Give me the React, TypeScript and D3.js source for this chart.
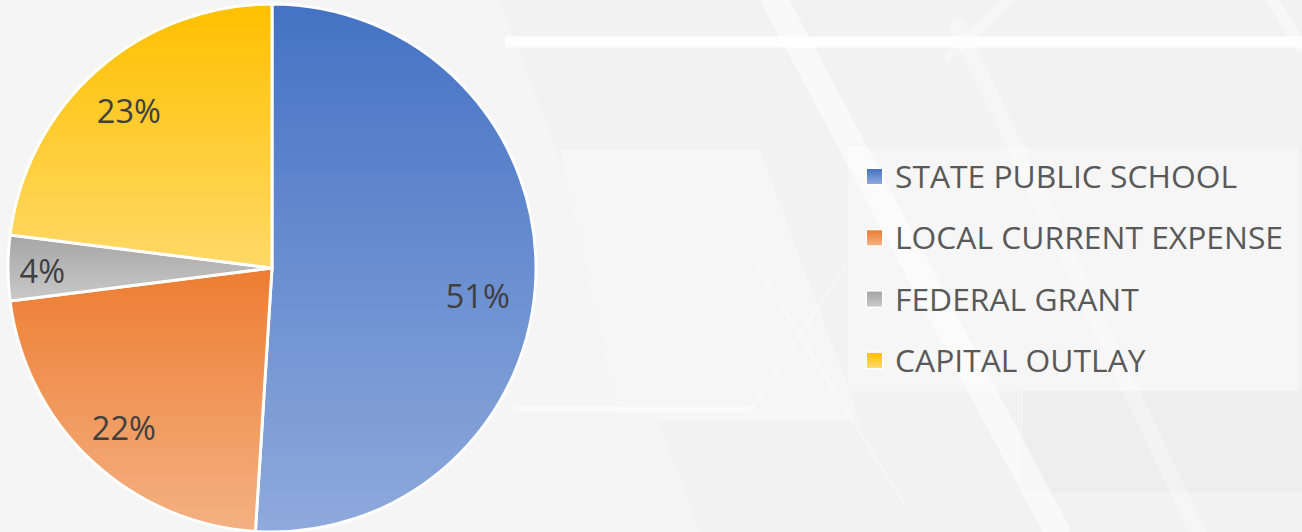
import React from "react";
import * as d3 from "d3";

// funding sources (percent of total)
const categories = [
  "STATE PUBLIC SCHOOL",
  "LOCAL CURRENT EXPENSE",
  "FEDERAL GRANT",
  "CAPITAL OUTLAY",
];
const shares = [51, 22, 4, 23];

// gradient stops per slice: top colour, bottom colour
const topColors = ["#4472C4", "#ED7D31", "#A5A5A5", "#FFC000"];
const bottomColors = ["#8FAADC", "#F4B183", "#C9C9C9", "#FFD966"];

const W = 1302;
const H = 532;
const cx = 272;
const cy = 268;
const r = 264;

// excel "best fit" pushes labels around a bit
const labelRadius = [0.78, 0.82, 0.87, 0.82];
const labelDy = [22, 3, 4, 6];

const App = () => {
  const pie = d3
    .pie<number>()
    .sort(null)
    .value((d) => d);
  const arcs = pie(shares);
  const arc = d3.arc<d3.PieArcDatum<number>>().innerRadius(0).outerRadius(r);

  const legendX = 867;
  const legendY0 = 188;
  const legendStep = 61.3;

  return (
    <svg
      width={W}
      height={H}
      style={{ position: "absolute", left: 0, top: 0, display: "block" }}
      fontFamily="'Open Sans', 'Noto Sans', sans-serif"
    >
      <defs>
        {categories.map((c, i) => (
          <linearGradient key={c} id={`g${i}`} x1="0" y1="0" x2="0" y2="1">
            <stop offset="0" stopColor={topColors[i]} />
            <stop offset="1" stopColor={bottomColors[i]} />
          </linearGradient>
        ))}
      </defs>

      {/* background decoration */}
      <rect width={W} height={H} fill="#f2f2f2" />
      <polygon points="0,0 500,0 700,532 0,532" fill="#f5f5f5" />
      <polygon points="560,150 760,150 860,420 620,420" fill="#f6f6f6" />
      <rect x={1023} y={391} width={279} height={101} fill="#eeeeee" />
      <g stroke="#ffffff" fill="none" strokeLinecap="butt">
        <line x1={505} y1={42} x2={W} y2={42} strokeWidth={11} opacity={0.9} />
        <line x1={513} y1={409} x2={753} y2={409} strokeWidth={6} opacity={0.45} />
        <line x1={772} y1={-5} x2={1060} y2={537} strokeWidth={26} opacity={0.55} />
        <line x1={955} y1={20} x2={1200} y2={537} strokeWidth={16} opacity={0.3} />
        <line x1={1015} y1={-5} x2={945} y2={60} strokeWidth={10} opacity={0.3} />
        <line x1={757} y1={266} x2={905} y2={505} strokeWidth={3} opacity={0.35} />
        <line x1={845} y1={266} x2={745} y2={420} strokeWidth={3} opacity={0.35} />
        <line x1={1270} y1={-5} x2={1302} y2={50} strokeWidth={12} opacity={0.4} />
      </g>
      {/* legend panel */}
      <rect x={848} y={147} width={450} height={244} fill="#ffffff" opacity={0.3} />

      {/* pie */}
      <g transform={`translate(${cx},${cy})`}>
        {arcs.map((a, i) => (
          <path
            key={categories[i]}
            d={arc(a) || ""}
            fill={`url(#g${i})`}
            stroke="#ffffff"
            strokeWidth={3}
            strokeLinejoin="round"
          />
        ))}
        {arcs.map((a, i) => {
          const lr = r * labelRadius[i];
          const [lx, ly] = d3
            .arc<d3.PieArcDatum<number>>()
            .innerRadius(lr)
            .outerRadius(lr)
            .centroid(a);
          return (
            <text
              key={"l" + categories[i]}
              x={lx}
              y={ly + labelDy[i]}
              dy="0.35em"
              textAnchor="middle"
              fontSize={32.5}
              fill="#404040"
            >
              {`${shares[i]}%`}
            </text>
          );
        })}
      </g>

      {/* legend */}
      {categories.map((c, i) => {
        const y = legendY0 + i * legendStep;
        return (
          <g key={"lg" + c}>
            <rect
              x={legendX - 1.5}
              y={y - 20.5}
              width={18}
              height={18}
              fill="#ffffff"
            />
            <rect x={legendX} y={y - 19} width={15} height={15} fill={`url(#g${i})`} />
            <text x={895} y={y} fontSize={31.8} fill="#595959">
              {c}
            </text>
          </g>
        );
      })}
    </svg>
  );
};

export default App;
